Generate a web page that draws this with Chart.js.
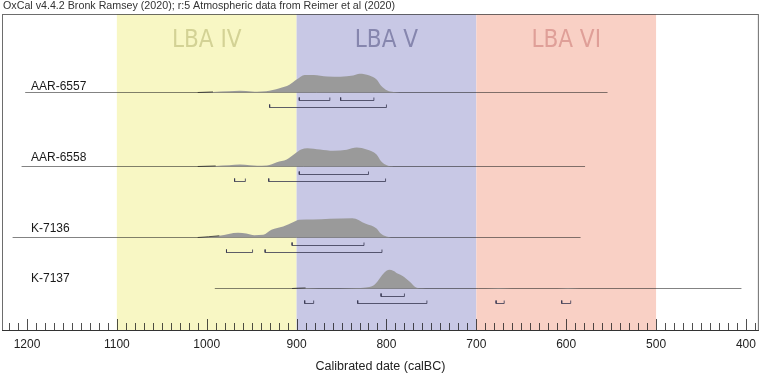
<!DOCTYPE html>
<html>
<head>
<meta charset="utf-8">
<script src="https://cdn.jsdelivr.net/npm/chart.js@4.4.1/dist/chart.umd.min.js"></script>
<style>
html,body{margin:0;padding:0;background:#fff;}
canvas{display:block;}
</style>
</head>
<body>
<canvas id="c" width="763" height="379"></canvas>
<script>
// ---------------- DATA ----------------
const headerText = "OxCal v4.4.2 Bronk Ramsey (2020); r:5 Atmospheric data from Reimer et al (2020)";
const axisTitle = "Calibrated date (calBC)";
const tickValues = [1200, 1100, 1000, 900, 800, 700, 600, 500, 400];

const phaseNames = ["LBA IV", "LBA V", "LBA VI"];
const phaseStart = [1100, 900, 700];
const phaseEnd = [900, 700, 500];

const sampleNames = ["AAR-6557", "AAR-6558", "K-7136", "K-7137"];
const rangeStart = [1202, 1206, 1216, 991];
const rangeEnd = [554, 579, 584, 405];

// relative probability (year calBC, relative density)
const probAAR6557 = [[1010,0],[993,0.03],[975,0.06],[963,0.09],[950,0.05],[944,0.04],[934,0.06],[919,0.22],[908,0.40],[900,0.67],[891,0.91],[881,0.91],[866,0.83],[851,0.82],[837,0.88],[830,0.97],[819,0.88],[811,0.67],[806,0.35],[799,0.10],[792,0.02],[785,0]];
const probAAR6558 = [[1010,0],[990,0.03],[975,0.06],[963,0.10],[952,0.06],[944,0.04],[933,0.05],[922,0.22],[911,0.36],[902,0.66],[895,0.88],[888,0.95],[874,0.88],[859,0.81],[844,0.87],[833,0.98],[822,0.88],[811,0.62],[806,0.27],[799,0.05],[792,0]];
const probK7136 = [[1010,0],[986,0.09],[965,0.24],[956,0.21],[947,0.12],[937,0.14],[928,0.40],[915,0.57],[904,0.79],[897,0.92],[882,0.93],[863,0.97],[838,1.0],[823,0.71],[811,0.47],[806,0.19],[800,0.05],[795,0]];
const probK7137 = [[905,0],[890,0.03],[875,0],[852,0],[834,0.02],[823,0.05],[815,0.14],[810,0.36],[806,0.62],[801,0.88],[797,0.97],[792,0.91],[787,0.76],[782,0.65],[774,0.35],[767,0.05],[760,0.01],[752,0],[690,0],[675,0.03],[660,0],[610,0],[598,0.03],[585,0]];
const probs = [probAAR6557, probAAR6558, probK7136, probK7137];

// highest posterior density ranges [from, to]
const hpd68 = [
  [[897,863],[851,814]],
  [[897,820]],
  [[905,825]],
  [[806,780]]
];
const hpd95 = [
  [[930,800]],
  [[969,957],[931,801]],
  [[978,949],[935,805]],
  [[891,881],[832,755],[678,669],[605,595]]
];

// ---------------- LAYOUT / STYLE ----------------
const W = 763, H = 379;
const AREA_TOP = 14, AREA_BOTTOM = 330;
const rowBasePx = [92.5, 166.5, 237.5, 288.5];
const labelBasePx = [89.5, 161, 232, 281.5];
const peakPx = 19.3;
const off68 = 8, off95 = 15, bracketTick = 3;
const yv = px => AREA_BOTTOM - px; // y value (1 unit = 1 px)

const bandColors = ['#f8f7c4', '#c8c8e5', '#f9d0c5'];
const bandTextColors = ['#d3d295', '#8686ae', '#df9f98'];

const datasets = [];
sampleNames.forEach((name, i) => {
  const b = yv(rowBasePx[i]);
  datasets.push({
    data: [{x: rangeStart[i], y: b}, {x: rangeEnd[i], y: b}],
    borderColor: 'rgba(30,30,30,0.55)', borderWidth: 1, pointRadius: 0, fill: false, order: 3
  });
  const pts = probs[i].slice().sort((a, c) => a[0] - c[0]).map(p => ({x: p[0], y: b + p[1] * peakPx}));
  datasets.push({
    data: pts,
    borderColor: 'rgba(40,40,40,0.75)', borderWidth: 1, pointRadius: 0,
    backgroundColor: '#9a9a9a', fill: {value: b}, cubicInterpolationMode: 'monotone', order: 2
  });
  [[hpd68[i], off68], [hpd95[i], off95]].forEach(([ranges, off]) => {
    const yl = b - off;
    const d = [];
    ranges.forEach(r => {
      d.push({x: r[0], y: yl + bracketTick}, {x: r[0], y: yl}, {x: r[1], y: yl}, {x: r[1], y: yl + bracketTick}, {x: r[1], y: null});
    });
    datasets.push({
      data: d, borderColor: 'rgba(55,55,80,0.8)', borderWidth: 1, pointRadius: 0, fill: false, spanGaps: false, tension: 0, order: 1
    });
  });
});

const bandPlugin = {
  id: 'bands',
  beforeDatasetsDraw(chart) {
    const {ctx, chartArea, scales: {x}} = chart;
    ctx.save();
    phaseNames.forEach((n, i) => {
      const x1 = x.getPixelForValue(phaseStart[i]);
      const x2 = x.getPixelForValue(phaseEnd[i]);
      ctx.fillStyle = bandColors[i];
      ctx.fillRect(x1, chartArea.top, x2 - x1, chartArea.bottom - chartArea.top);
      ctx.fillStyle = bandTextColors[i];
      ctx.font = "24px 'Liberation Sans Narrow', 'DejaVu Sans Condensed', 'Open Sans', sans-serif";
      ctx.textAlign = 'center';
      ctx.textBaseline = 'alphabetic';
      ctx.fillText(n, (x1 + x2) / 2, 47);
    });
    ctx.restore();
  },
  afterDatasetsDraw(chart) {
    const {ctx, chartArea, scales: {x}} = chart;
    ctx.save();
    // frame
    ctx.strokeStyle = 'rgba(60,60,60,0.75)';
    ctx.lineWidth = 1;
    ctx.strokeRect(chartArea.left + 0.5, chartArea.top + 0.5, chartArea.right - chartArea.left - 1, chartArea.bottom - chartArea.top);
    // axis line
    ctx.strokeStyle = '#333';
    ctx.beginPath();
    ctx.moveTo(chartArea.left, chartArea.bottom + 0.5);
    ctx.lineTo(chartArea.right, chartArea.bottom + 0.5);
    ctx.stroke();
    // ticks
    ctx.strokeStyle = 'rgba(20,20,20,0.75)';
    for (let v = 1220; v >= 390; v -= 10) {
      const px = Math.round(x.getPixelForValue(v)) + 0.5;
      const len = (v % 100 === 0) ? 11 : 7;
      ctx.beginPath();
      ctx.moveTo(px, chartArea.bottom);
      ctx.lineTo(px, chartArea.bottom - len);
      ctx.stroke();
    }
    // sample labels
    ctx.fillStyle = '#1a1a1a';
    ctx.font = "12px 'Liberation Sans', Arial, sans-serif";
    ctx.textAlign = 'left';
    ctx.textBaseline = 'alphabetic';
    sampleNames.forEach((n, i) => ctx.fillText(n, chartArea.left + 29, labelBasePx[i]));
    // header
    ctx.fillStyle = '#333';
    ctx.font = "10.7px 'Liberation Sans', Arial, sans-serif";
    ctx.fillText(headerText, 3, 8.5);
    ctx.restore();
  }
};

new Chart(document.getElementById('c'), {
  type: 'line',
  data: {datasets},
  options: {
    responsive: false,
    animation: false,
    events: [],
    layout: {padding: {top: AREA_TOP, left: 2, right: 3, bottom: 0}},
    plugins: {legend: {display: false}, tooltip: {enabled: false}},
    scales: {
      x: {
        type: 'linear', reverse: true, min: 1227.8, max: 385.6,
        afterBuildTicks: s => { s.ticks = tickValues.map(v => ({value: v})); },
        afterFit: s => { s.height = H - AREA_BOTTOM; },
        grid: {display: false, drawTicks: false},
        border: {display: false},
        ticks: {color: '#222', font: {size: 12, family: "'Liberation Sans', Arial, sans-serif"}, padding: 7, maxRotation: 0, autoSkip: false, callback: v => String(v)},
        title: {display: true, text: axisTitle, color: '#222', font: {size: 12.5, family: "'Liberation Sans', Arial, sans-serif"}, padding: {top: 0, bottom: 5}}
      },
      y: {type: 'linear', min: 0, max: AREA_BOTTOM - AREA_TOP, display: false}
    }
  },
  plugins: [bandPlugin]
});
</script>
</body>
</html>
